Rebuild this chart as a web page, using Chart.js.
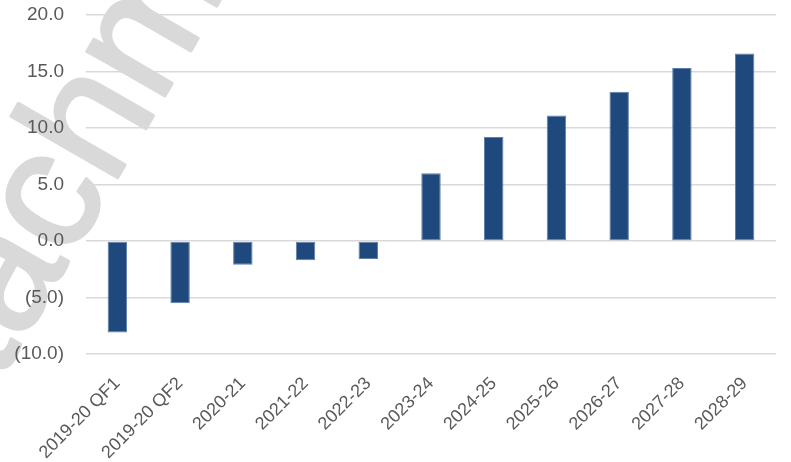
<!DOCTYPE html>
<html>
<head>
<meta charset="utf-8">
<script src="https://cdn.jsdelivr.net/npm/chart.js@4/dist/chart.umd.min.js"></script>
<style>
  html, body { margin: 0; padding: 0; background: #fff; }
  #wrap { width: 791px; height: 462px; }
</style>
</head>
<body>
<div id="wrap"><canvas id="balanceChart"></canvas></div>
<script>
const years = ['2019-20 QF1', '2019-20 QF2', '2020-21', '2021-22', '2022-23', '2023-24',
  '2024-25', '2025-26', '2026-27', '2027-28', '2028-29'];
const balance = [-8.1, -5.5, -2.1, -1.7, -1.6, 6.0, 9.2, 11.1, 13.2, 15.3, 16.6];
const stampText = 'Attachment';

// show negatives in brackets, one decimal place
function fmt(v) {
  const s = Math.abs(v).toFixed(1);
  return v < 0 ? '(' + s + ')' : s;
}

// faint diagonal stamp drawn under the grid
const stamp = {
  id: 'stamp',
  beforeDraw(chart) {
    const ctx = chart.ctx;
    const size = 170;
    ctx.save();
    ctx.font = size + 'px "Liberation Sans", Arial, sans-serif';
    ctx.fillStyle = '#d9d9d9';
    ctx.strokeStyle = '#d9d9d9';
    ctx.lineWidth = 3;
    ctx.lineJoin = 'round';
    ctx.textBaseline = 'alphabetic';
    ctx.textAlign = 'left';
    // middle of the "h" sits here
    ctx.translate(97, 125);
    ctx.rotate(-60 * Math.PI / 180);
    const before = ctx.measureText('Attac').width;
    const h = ctx.measureText('h').width;
    const x0 = -before - h / 2;
    const y0 = size * 0.26;
    ctx.fillText(stampText, x0, y0);
    ctx.strokeText(stampText, x0, y0);
    ctx.restore();
  }
};

const yFont = { family: '"Liberation Sans", Arial, sans-serif', size: 19 };
const xFont = { family: '"Liberation Sans", Arial, sans-serif', size: 18 };

const cx = document.getElementById('balanceChart');
new Chart(cx, {
  type: 'bar',
  data: {
    labels: years,
    datasets: [{
      data: balance,
      backgroundColor: '#1f497d',
      borderColor: '#5f7fa8',
      borderWidth: 1,
      borderSkipped: false,
      categoryPercentage: 1,
      barPercentage: 0.31
    }]
  },
  options: {
    responsive: true,
    maintainAspectRatio: false,
    animation: false,
    layout: { padding: { left: 12, right: 15, top: 15, bottom: 0 } },
    plugins: {
      legend: { display: false },
      tooltip: { enabled: false }
    },
    scales: {
      x: {
        grid: { display: false, drawTicks: false },
        border: { display: false },
        ticks: {
          color: '#595959',
          font: xFont,
          minRotation: 45,
          maxRotation: 45,
          autoSkip: false,
          padding: 19
        },
        afterFit(scale) {
          scale.paddingLeft = 0;
          scale.paddingRight = 0;
          scale.height = 108;
        }
      },
      y: {
        min: -10,
        max: 20,
        grid: { color: '#d9d9d9', lineWidth: 1.5, drawTicks: false },
        border: { display: false },
        ticks: {
          stepSize: 5,
          color: '#595959',
          font: yFont,
          padding: 22,
          callback: v => fmt(v)
        },
        afterFit(scale) {
          scale.width = 74;
          scale.paddingTop = 0;
          scale.paddingBottom = 0;
        }
      }
    }
  },
  plugins: [stamp]
});
</script>
</body>
</html>
